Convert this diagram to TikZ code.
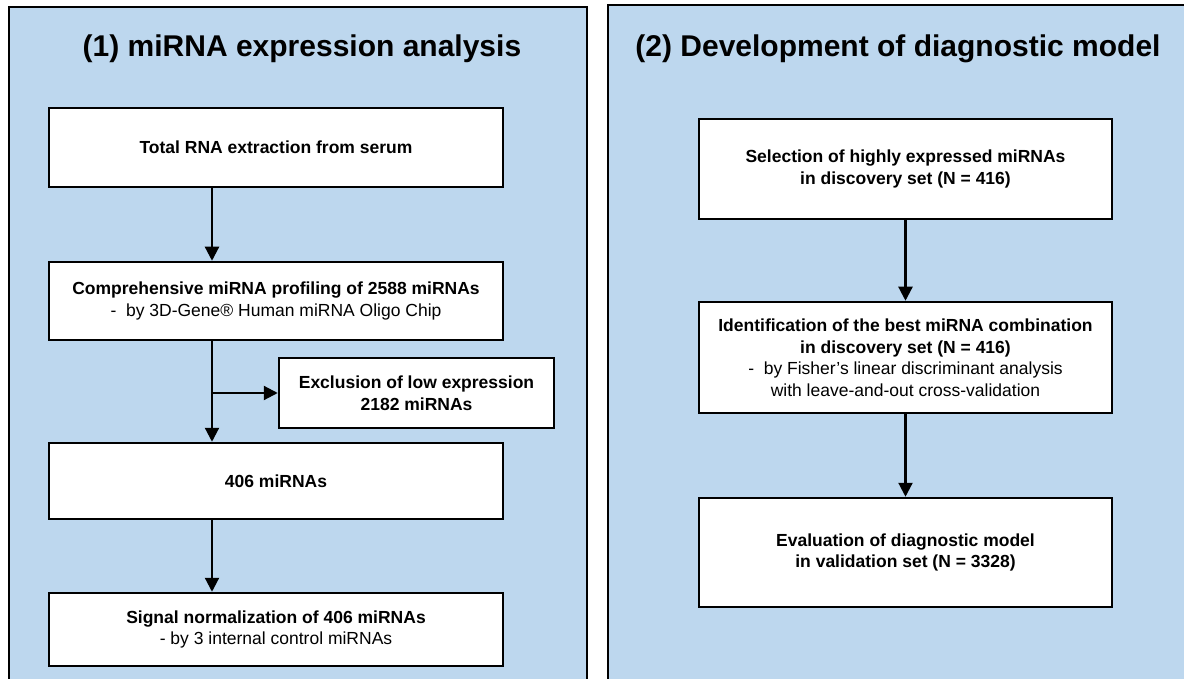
\documentclass[tikz,border=0pt]{standalone}
\usepackage{fontspec}
\setmainfont{Liberation Sans}
\usetikzlibrary{arrows.meta}
\definecolor{panelblue}{HTML}{BDD7EE}
\begin{document}
\begin{tikzpicture}[x=1pt,y=-1pt,
 panel/.style={draw=black, line width=2.5pt, fill=panelblue},
 box/.style={draw=black, line width=2.5pt, fill=white, inner sep=0pt, align=center, font=\fontsize{17.5}{21.5}\selectfont},
 ttl/.style={font=\fontsize{30}{36}\selectfont\bfseries, inner sep=0pt},
 arr/.style={line width=2.2pt, -{Triangle[width=14pt,length=14pt]}}]
\useasboundingbox[fill=white] (0,0) rectangle (1184,679);
\begin{scope}
\clip (0,0) rectangle (1184,679);
\draw[panel] (9,7) rectangle (587,700);
\draw[panel] (608,5) rectangle (1200,700);
\end{scope}
\node[ttl, anchor=base] (t1) at (302,57) {(1) miRNA expression analysis};
\node[ttl, anchor=base] (t2) at (898,57) {(2) Development of diagnostic model};
% left column
\node[box, minimum width=454pt, minimum height=79pt] (a) at (276,147.5) {\textbf{Total RNA extraction from serum}};
\node[box, minimum width=454pt, minimum height=78pt] (b) at (276,301) {\textbf{Comprehensive miRNA profiling of 2588 miRNAs}\\-\ \ by 3D-Gene® Human miRNA Oligo Chip};
\node[box, minimum width=275pt, minimum height=70pt] (c) at (416.5,393) {\textbf{Exclusion of low expression}\\\textbf{2182 miRNAs}};
\node[box, minimum width=454pt, minimum height=76pt] (d) at (276,481) {\textbf{406 miRNAs}};
\node[box, minimum width=454pt, minimum height=73pt] (e) at (276,629.5) {\textbf{Signal normalization of 406 miRNAs}\\- by 3 internal control miRNAs};
% right column
\node[box, minimum width=413pt, minimum height=100pt] (f) at (905.5,169) {\textbf{Selection of highly expressed miRNAs}\\\textbf{in discovery set (N = 416)}};
\node[box, minimum width=413pt, minimum height=111pt] (g) at (905.5,357.5) {\textbf{Identification of the best miRNA combination}\\\textbf{in discovery set (N = 416)}\\-\ \ by Fisher’s linear discriminant analysis\\with leave-and-out cross-validation};
\node[box, minimum width=413pt, minimum height=109pt] (h) at (905.5,552.5) {\textbf{Evaluation of diagnostic model}\\\textbf{in validation set (N = 3328)}};
% connectors
\draw[arr] ([xshift=-64pt]a.south) -- ([xshift=-64pt]b.north);
\draw[arr] ([xshift=-64pt]b.south) -- ([xshift=-64pt]d.north);
\draw[arr] ([xshift=-64pt]b.south |- c.west) -- (c.west);
\draw[arr] ([xshift=-64pt]d.south) -- ([xshift=-64pt]e.north);
\draw[arr] (f.south) -- (g.north);
\draw[arr] (g.south) -- (h.north);
\end{tikzpicture}
\end{document}
